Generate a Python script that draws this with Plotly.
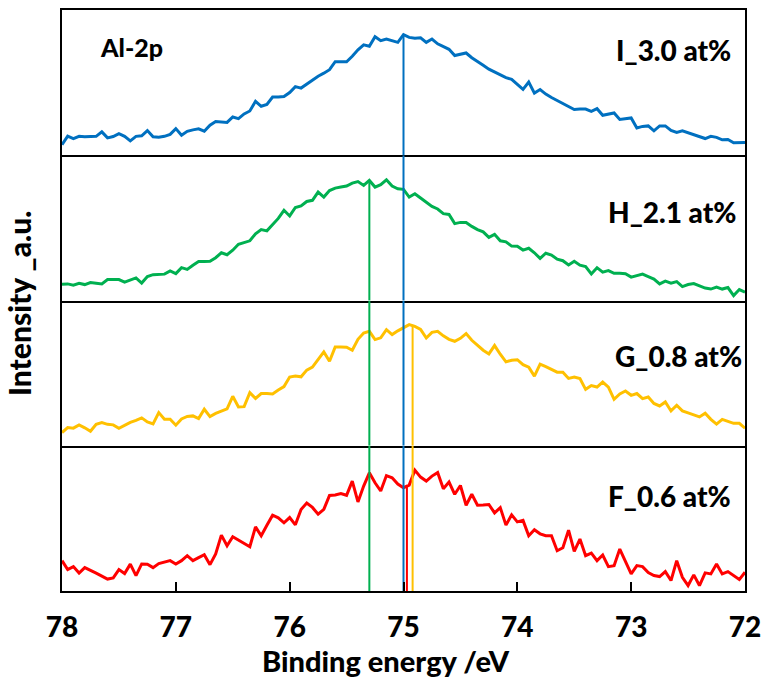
import numpy as np
import plotly.graph_objects as go
from plotly.subplots import make_subplots

# Binding energy grid (eV), 0.05 eV step from 78 down to 72
binding_energy = np.linspace(78.0, 72.0, 121)

# Al-2p spectra (arbitrary units), one list per sample
intensity_I = [
    10.5, 19.2, 16.8, 19.0, 18.5, 18.5, 19.0, 23.5, 17.5, 18.8,
    21.8, 19.0, 14.5, 19.0, 19.5, 24.8, 18.5, 18.0, 19.0, 21.0,
    26.8, 20.2, 24.0, 25.5, 26.5, 24.2, 30.2, 34.0, 33.5, 33.0,
    38.5, 36.8, 41.5, 44.5, 54.2, 49.2, 51.0, 58.5, 58.5, 59.0,
    63.0, 69.0, 67.5, 71.5, 76.0, 79.5, 82.5, 86.0, 94.0, 94.2,
    94.0, 99.5, 106.0, 111.0, 109.5, 119.2, 115.2, 116.8, 115.5, 113.5,
    121.2, 118.5, 117.5, 118.0, 113.5, 116.8, 112.0, 109.5, 106.5, 100.2,
    101.5, 102.8, 98.0, 94.5, 90.5, 86.5, 83.5, 81.2, 78.0, 76.2,
    71.0, 66.2, 73.5, 62.5, 66.0, 61.5, 58.0, 55.0, 52.0, 49.0,
    46.0, 46.5, 46.5, 44.2, 46.8, 40.2, 41.5, 42.5, 36.0, 36.5,
    37.5, 27.5, 29.0, 29.5, 24.5, 29.5, 29.5, 25.0, 23.0, 24.5,
    22.5, 20.5, 18.0, 16.8, 19.0, 18.0, 15.5, 15.8, 12.5, 12.5,
    12.8,
]

intensity_H = [
    16.3, 16.7, 15.3, 17.3, 16.0, 18.0, 17.3, 16.7, 21.0, 21.3,
    21.0, 18.5, 21.0, 22.7, 17.5, 24.0, 26.0, 26.3, 26.5, 29.7,
    27.0, 33.0, 31.3, 35.5, 39.3, 39.3, 39.5, 43.0, 48.0, 46.0,
    50.5, 56.5, 58.0, 60.0, 67.0, 71.3, 70.0, 76.5, 82.5, 90.7,
    85.0, 93.5, 95.0, 99.5, 100.7, 109.0, 104.0, 110.5, 113.0, 114.0,
    115.0, 118.0, 119.5, 115.7, 120.7, 114.0, 116.5, 121.3, 115.0, 112.3,
    111.7, 104.0, 107.3, 103.0, 98.5, 94.5, 92.0, 87.3, 86.5, 77.3,
    78.5, 78.5, 74.5, 71.3, 69.0, 63.5, 66.5, 60.0, 59.0, 54.7,
    54.5, 50.7, 52.5, 48.0, 42.3, 47.5, 45.7, 41.5, 40.0, 35.7,
    39.5, 35.5, 34.0, 26.7, 33.0, 28.5, 30.0, 27.3, 27.3, 27.0,
    23.5, 25.0, 26.5, 24.0, 21.5, 16.7, 19.5, 17.5, 19.0, 14.0,
    16.0, 17.0, 14.5, 12.5, 11.5, 13.5, 11.5, 13.0, 5.0, 11.0,
    8.3,
]

intensity_G = [
    13.3, 18.3, 17.7, 21.0, 18.0, 14.5, 21.5, 23.3, 21.5, 21.0,
    17.5, 20.5, 23.5, 25.5, 28.0, 24.0, 22.0, 33.3, 26.7, 26.7,
    20.7, 27.0, 29.5, 30.0, 27.3, 36.7, 29.3, 32.5, 35.0, 37.0,
    49.7, 39.0, 39.3, 53.3, 47.5, 52.5, 52.5, 52.0, 56.0, 59.5,
    69.0, 70.0, 69.3, 76.0, 79.0, 87.0, 94.3, 85.0, 99.3, 99.3,
    99.0, 96.0, 107.0, 113.3, 115.0, 106.7, 108.5, 116.7, 111.7, 115.5,
    118.3, 121.7, 120.0, 117.0, 108.3, 114.0, 115.0, 110.5, 107.0, 105.0,
    108.0, 112.7, 106.0, 100.5, 96.0, 92.3, 100.7, 92.0, 84.3, 86.0,
    86.5, 81.5, 79.0, 70.0, 82.0, 79.5, 76.5, 74.0, 74.0, 67.7,
    69.0, 67.5, 56.7, 60.5, 59.0, 64.0, 59.0, 46.7, 52.0, 55.0,
    50.7, 52.5, 47.3, 49.0, 42.5, 40.0, 44.0, 35.0, 40.7, 35.0,
    33.0, 31.0, 29.0, 32.7, 26.5, 21.7, 26.5, 24.5, 22.5, 22.5,
    17.7,
]

intensity_F = [
    30.5, 21.5, 24.5, 18.0, 23.5, 21.0, 18.0, 15.0, 12.0, 13.2,
    21.5, 17.5, 27.0, 15.5, 27.2, 27.0, 23.5, 27.5, 29.0, 30.5,
    27.2, 30.5, 35.5, 30.5, 33.5, 36.5, 26.5, 37.2, 56.2, 45.5,
    54.5, 51.0, 47.5, 44.5, 64.5, 55.5, 66.0, 76.2, 73.5, 68.5,
    73.8, 66.5, 82.0, 88.5, 84.0, 77.2, 82.0, 96.0, 96.5, 98.0,
    96.2, 110.5, 89.5, 105.5, 118.8, 108.8, 100.5, 116.0, 113.8, 107.5,
    103.8, 106.5, 121.5, 114.5, 110.5, 115.5, 119.0, 102.8, 109.5, 97.2,
    106.0, 86.2, 97.2, 86.2, 86.5, 87.0, 78.5, 83.8, 66.2, 76.5,
    69.5, 71.0, 55.5, 61.5, 57.5, 55.5, 55.5, 40.5, 43.5, 61.2,
    39.8, 52.2, 35.5, 38.0, 30.5, 36.2, 24.5, 25.5, 42.2, 30.5,
    17.2, 25.5, 24.5, 18.5, 15.5, 14.5, 19.5, 10.5, 30.5, 13.8,
    5.5, 16.2, 5.5, 18.2, 17.2, 27.2, 17.2, 19.5, 15.5, 11.5,
    18.8,
]

samples = ["I_3.0 at%", "H_2.1 at%", "G_0.8 at%", "F_0.6 at%"]
spectra = [intensity_I, intensity_H, intensity_G, intensity_F]
colors = ["#0070C0", "#00B050", "#FFC000", "#FF0000"]
# Peak centre of each spectrum (eV)
peak_positions = [75.00, 75.30, 74.92, 74.97]

Y_MAX = 146.0
FONT = "Lato"
WEIGHT = 900

fig = make_subplots(rows=4, cols=1, shared_xaxes=True, vertical_spacing=0)

# spectra
for i, (y, c) in enumerate(zip(spectra, colors)):
    fig.add_trace(
        go.Scatter(x=binding_energy, y=y, mode="lines",
                   line=dict(color=c, width=3), showlegend=False,
                   hoverinfo="x+y"),
        row=i + 1, col=1,
    )

# peak markers: from the curve in its own panel down through the panels below
be_asc = binding_energy[::-1]
for i, (p, y, c) in enumerate(zip(peak_positions, spectra, colors)):
    top = float(np.interp(p, be_asc, np.asarray(y)[::-1]))
    for r in range(i, 4):
        y_seg = [top, 0] if r == i else [Y_MAX, 0]
        fig.add_trace(
            go.Scatter(x=[p, p], y=y_seg, mode="lines",
                       line=dict(color=c, width=2), showlegend=False,
                       hoverinfo="skip"),
            row=r + 1, col=1,
        )

for r in range(1, 5):
    last = r == 4
    fig.update_xaxes(
        range=[78, 72], dtick=1, showgrid=False, zeroline=False,
        showline=True, mirror=(r == 1), linecolor="black", linewidth=2,
        ticks="inside" if last else "", ticklen=9, tickwidth=1.5,
        tickcolor="black", showticklabels=last,
        tickfont=dict(family=FONT, size=28, color="black", weight=WEIGHT),
        ticklabelstandoff=10,
        row=r, col=1,
    )
    fig.update_yaxes(
        range=[0, Y_MAX], showgrid=False, zeroline=False,
        showline=True, mirror=True, linecolor="black", linewidth=2,
        ticks="", showticklabels=False,
        row=r, col=1,
    )

label_pos = [(0.983, 0.932), (0.990, 0.653), (0.998, 0.404), (0.983, 0.164)]
annotations = [
    dict(text=s, x=x, y=y, xref="paper", yref="paper", xanchor="right",
         yanchor="middle", showarrow=False,
         font=dict(family=FONT, size=28, color="black", weight=WEIGHT))
    for s, (x, y) in zip(samples, label_pos)
]
annotations.append(
    dict(text="Al-2p", x=0.052, y=0.936, xref="paper", yref="paper",
         xanchor="left", yanchor="middle", showarrow=False,
         font=dict(family=FONT, size=25, color="black", weight=WEIGHT))
)
# axis titles
annotations.append(
    dict(text="Binding energy /eV", x=0.475, y=-0.119, xref="paper",
         yref="paper", xanchor="center", yanchor="middle", showarrow=False,
         font=dict(family=FONT, size=29, color="black", weight=WEIGHT))
)
annotations.append(
    dict(text="Intensity _a.u.", x=-0.062, y=0.495, xref="paper",
         yref="paper", xanchor="center", yanchor="middle", textangle=-90,
         showarrow=False,
         font=dict(family=FONT, size=30, color="black", weight=WEIGHT))
)

fig.update_layout(
    width=769, height=686,
    margin=dict(l=62, r=17, t=8, b=95),
    paper_bgcolor="white", plot_bgcolor="white",
    annotations=annotations,
)

fig.write_html("out.html")
